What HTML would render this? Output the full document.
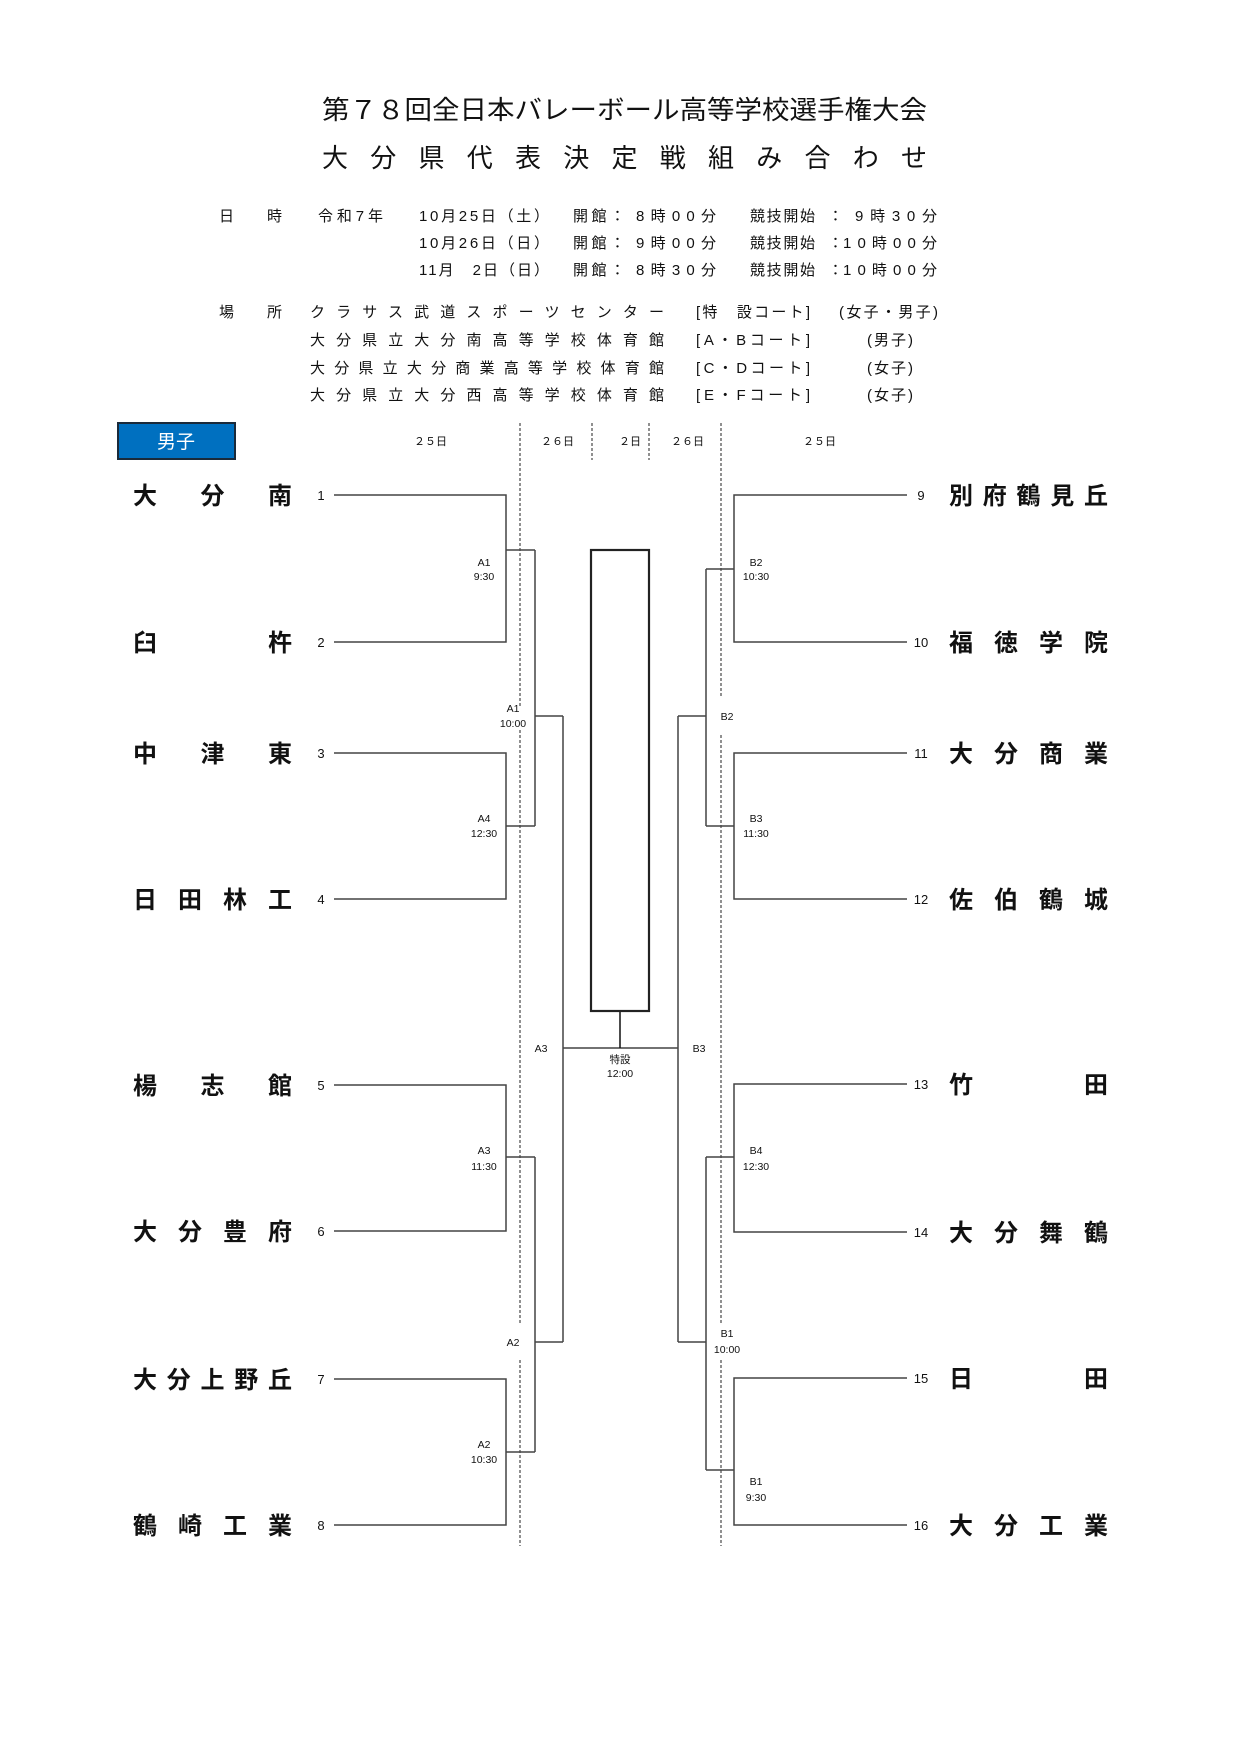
<!DOCTYPE html>
<html><head><meta charset="utf-8"><style>
html,body{margin:0;padding:0;background:#fff}
svg{display:block}
text{font-family:"Liberation Sans","Noto Sans CJK JP",sans-serif;fill:#111}
.h{font-size:15px}
.n{font-size:24px;font-weight:bold}
.num{font-size:13px;fill:#333}
.l{font-size:10.5px;text-anchor:middle}
.d{font-size:11px}
</style></head><body>
<svg width="1241" height="1754" viewBox="0 0 1241 1754" xmlns="http://www.w3.org/2000/svg">
<text x="322" y="119" style="font-size:26px" textLength="605" lengthAdjust="spacingAndGlyphs">第７８回全日本バレーボール高等学校選手権大会</text>
<text x="322" y="167" style="font-size:26px" textLength="605" lengthAdjust="spacing">大分県代表決定戦組み合わせ</text>

<g class="h">
<text x="219" y="221">日</text><text x="267" y="221">時</text>
<text x="318" y="221" textLength="65">令和7年</text>
<text x="419" y="221" textLength="130">10月25日（土）</text>
<text x="573" y="221" textLength="52">開館：</text>
<text x="636" y="221" textLength="80">8時00分</text>
<text x="750" y="221" textLength="65">競技開始</text>
<text x="828" y="221">：</text>
<text x="855" y="221" textLength="82">9時30分</text>

<text x="419" y="248" textLength="130">10月26日（日）</text>
<text x="573" y="248" textLength="52">開館：</text>
<text x="636" y="248" textLength="80">9時00分</text>
<text x="750" y="248" textLength="65">競技開始</text>
<text x="828" y="248">：</text>
<text x="843" y="248" textLength="94">10時00分</text>

<text x="419" y="275" textLength="130">11月　2日（日）</text>
<text x="573" y="275" textLength="52">開館：</text>
<text x="636" y="275" textLength="80">8時30分</text>
<text x="750" y="275" textLength="65">競技開始</text>
<text x="828" y="275">：</text>
<text x="843" y="275" textLength="94">10時00分</text>

<text x="219" y="317">場</text><text x="267" y="317">所</text>
<text x="310" y="317" textLength="354">クラサス武道スポーツセンター</text>
<text x="696" y="317" textLength="114">[特　設コート]</text>
<text x="839" y="317" textLength="99">(女子・男子)</text>
<text x="310" y="345" textLength="354">大分県立大分南高等学校体育館</text>
<text x="696" y="345" textLength="114">[A・Bコート]</text>
<text x="867" y="345" textLength="46">(男子)</text>
<text x="310" y="373" textLength="354">大分県立大分商業高等学校体育館</text>
<text x="696" y="373" textLength="114">[C・Dコート]</text>
<text x="867" y="373" textLength="46">(女子)</text>
<text x="310" y="400" textLength="354">大分県立大分西高等学校体育館</text>
<text x="696" y="400" textLength="114">[E・Fコート]</text>
<text x="867" y="400" textLength="46">(女子)</text>
</g>

<rect x="118" y="423" width="117" height="36" fill="#0070c0" stroke="#1a2a3a" stroke-width="2"/>
<text x="176" y="448" style="font-size:19px;fill:#fff" text-anchor="middle">男子</text>

<g class="d">
<text x="414" y="445">２５日</text>
<text x="541" y="445">２６日</text>
<text x="619" y="445">２日</text>
<text x="671" y="445">２６日</text>
<text x="803" y="445">２５日</text>
</g>

<g stroke="#222" stroke-width="1" stroke-dasharray="3,2" fill="none">
<path d="M520 423V707M520 730V1323M520 1360V1546"/>
<path d="M721 423V697M721 735V1323M721 1360V1546"/>
<path d="M592 423V460M649 423V460"/>
</g>

<g stroke="#444" stroke-width="1.5" fill="none">
<path d="M334 495H506V642H334M506 550H535"/>
<path d="M334 753H506V899H334M506 826H535"/>
<path d="M535 550V826M535 716H563"/>
<path d="M334 1085H506V1231H334M506 1157H535"/>
<path d="M334 1379H506V1525H334M506 1452H535"/>
<path d="M535 1157V1452M535 1342H563"/>
<path d="M563 716V1342M563 1048H678"/>
<path d="M907 495H734V642H907M734 569H706"/>
<path d="M907 753H734V899H907M734 826H706"/>
<path d="M706 569V826M706 716H678"/>
<path d="M907 1084H734V1232H907M734 1157H706"/>
<path d="M907 1378H734V1525H907M734 1470H706"/>
<path d="M706 1157V1470M706 1342H678"/>
<path d="M678 716V1342"/>
<path d="M620 1011V1048" stroke="#111"/>
</g>
<rect x="591" y="550" width="58" height="461" fill="none" stroke="#222" stroke-width="2.2"/>

<g class="l">
<text x="484" y="566">A1</text><text x="484" y="580">9:30</text>
<text x="513" y="712">A1</text><text x="513" y="727">10:00</text>
<text x="484" y="822">A4</text><text x="484" y="837">12:30</text>
<text x="541" y="1052">A3</text>
<text x="620" y="1063">特設</text><text x="620" y="1077">12:00</text>
<text x="699" y="1052">B3</text>
<text x="484" y="1154">A3</text><text x="484" y="1170">11:30</text>
<text x="756" y="1154">B4</text><text x="756" y="1170">12:30</text>
<text x="513" y="1346">A2</text>
<text x="727" y="1337">B1</text><text x="727" y="1353">10:00</text>
<text x="484" y="1448">A2</text><text x="484" y="1463">10:30</text>
<text x="756" y="1485">B1</text><text x="756" y="1501">9:30</text>
<text x="756" y="566">B2</text><text x="756" y="580">10:30</text>
<text x="727" y="720">B2</text>
<text x="756" y="822">B3</text><text x="756" y="837">11:30</text>
</g>

<g class="n">
<text x="133" y="504" textLength="159" lengthAdjust="spacing">大分南</text>
<text x="133" y="651" textLength="159" lengthAdjust="spacing">臼杵</text>
<text x="133" y="762" textLength="159" lengthAdjust="spacing">中津東</text>
<text x="133" y="908" textLength="159" lengthAdjust="spacing">日田林工</text>
<text x="133" y="1094" textLength="159" lengthAdjust="spacing">楊志館</text>
<text x="133" y="1240" textLength="159" lengthAdjust="spacing">大分豊府</text>
<text x="133" y="1388" textLength="159" lengthAdjust="spacing">大分上野丘</text>
<text x="133" y="1534" textLength="159" lengthAdjust="spacing">鶴崎工業</text>
<text x="949" y="504" textLength="159" lengthAdjust="spacing">別府鶴見丘</text>
<text x="949" y="651" textLength="159" lengthAdjust="spacing">福徳学院</text>
<text x="949" y="762" textLength="159" lengthAdjust="spacing">大分商業</text>
<text x="949" y="908" textLength="159" lengthAdjust="spacing">佐伯鶴城</text>
<text x="949" y="1093" textLength="159" lengthAdjust="spacing">竹田</text>
<text x="949" y="1241" textLength="159" lengthAdjust="spacing">大分舞鶴</text>
<text x="949" y="1387" textLength="159" lengthAdjust="spacing">日田</text>
<text x="949" y="1534" textLength="159" lengthAdjust="spacing">大分工業</text>
</g>

<g class="num" text-anchor="middle">
<text x="321" y="500">1</text><text x="321" y="647">2</text>
<text x="321" y="758">3</text><text x="321" y="904">4</text>
<text x="321" y="1090">5</text><text x="321" y="1236">6</text>
<text x="321" y="1384">7</text><text x="321" y="1530">8</text>
<text x="921" y="500">9</text><text x="921" y="647">10</text>
<text x="921" y="758">11</text><text x="921" y="904">12</text>
<text x="921" y="1089">13</text><text x="921" y="1237">14</text>
<text x="921" y="1383">15</text><text x="921" y="1530">16</text>
</g>
</svg>
</body></html>
